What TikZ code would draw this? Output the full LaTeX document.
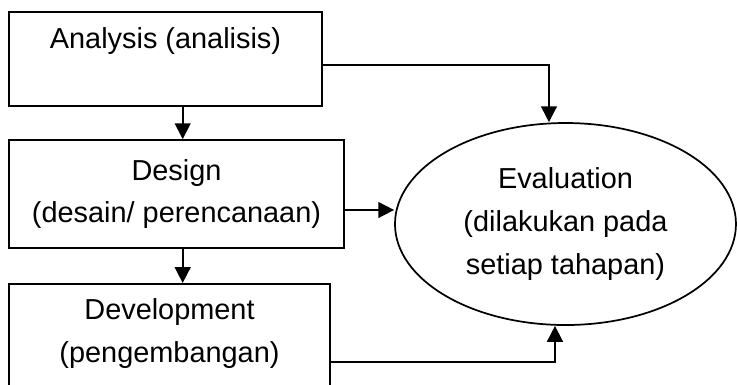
\documentclass[tikz,border=0pt]{standalone}
\usepackage{fontspec}
\setmainfont{Liberation Sans}
\usepackage{tikz}
\usetikzlibrary{positioning,arrows.meta,calc,shapes.geometric}

\begin{document}
\begin{tikzpicture}[
  font=\fontsize{21.75}{32.25}\selectfont,
  line width=1.3pt,
  stage/.style={draw, rectangle, inner sep=0pt, align=center},
  arr/.style={-{Triangle[length=0.42cm, width=0.42cm]}}
]
\useasboundingbox (0,0) rectangle (19.5,-10.186);
\clip (0,0) rectangle (19.5,-10.186);
\node[stage, minimum width=8.281cm, minimum height=2.487cm] (ana) at (4.379,-1.561) {Analysis (analisis)\\ ~};
\node[stage, minimum width=8.863cm, minimum height=2.857cm] (des) at (4.670,-5.133) {Design\\(desain/ perencanaan)};
\node[stage, minimum width=8.493cm, minimum height=3.6cm, anchor=north] (dev) at (4.485,-7.488) {Development\\(pengembangan)\\ ~};
\node[draw, ellipse, inner sep=0pt, minimum width=9.022cm, minimum height=5.345cm, align=center] (eval) at (14.962,-5.927) {Evaluation\\(dilakukan pada\\setiap tahapan)};
\coordinate (spine) at (4.834,0);
\coordinate (k1) at (14.525,-1.720);
\coordinate (k2) at (0,-5.556);
\coordinate (k3) at (14.684,-9.578);
\draw[arr] (spine |- ana.south) -- (spine |- des.north);
\draw[arr] (spine |- des.south) -- (spine |- dev.north);
\draw[arr] (ana.east |- k1) -| (eval.north -| k1);
\draw[arr] (des.east |- k2) -- (k2 -| eval.west);
\draw[arr] (dev.east |- k3) -| (eval.south -| k3);
\end{tikzpicture}
\end{document}
